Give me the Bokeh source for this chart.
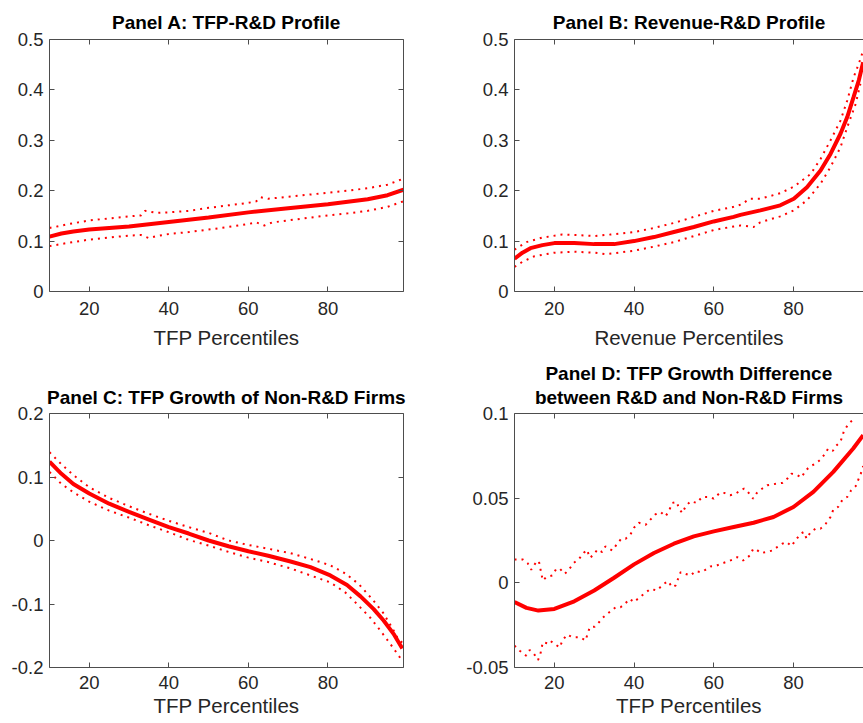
from bokeh.plotting import figure
from bokeh.layouts import column, row
from bokeh.models import Range1d, LinearAxis, FixedTicker, CustomJSTickFormatter, Title
from bokeh.embed import file_html
from bokeh.resources import INLINE

FONT = "Liberation Sans"
RED = "#ff0000"
AXIS = "#4d4d4d"
TEXT = "#262626"

x_ticks = [20, 40, 60, 80]

# Panel A: TFP-R&D profile
a_x = [10, 13, 16, 20, 30, 40, 50, 60, 70, 80, 90, 95, 99]
a_mid = [0.109, 0.115, 0.119, 0.123, 0.129, 0.138, 0.147, 0.157, 0.165, 0.173, 0.183, 0.191, 0.202]
a_up_x = [10, 15, 20, 25, 30, 33, 34, 37, 40, 45, 50, 55, 60, 62, 63, 65, 70, 75, 80, 85, 90, 95, 99]
a_up = [0.126, 0.134, 0.141, 0.145, 0.149, 0.151, 0.160, 0.156, 0.157, 0.160, 0.166, 0.171, 0.176,
        0.179, 0.187, 0.184, 0.188, 0.192, 0.196, 0.200, 0.205, 0.212, 0.224]
a_lo_x = [10, 15, 20, 25, 30, 33, 35, 37, 40, 45, 50, 55, 60, 62, 64, 66, 70, 75, 80, 85, 90, 95, 99]
a_lo = [0.090, 0.097, 0.103, 0.107, 0.111, 0.112, 0.106, 0.110, 0.114, 0.118, 0.123, 0.128, 0.134,
        0.137, 0.131, 0.137, 0.141, 0.146, 0.151, 0.155, 0.160, 0.168, 0.179]

# Panel B: revenue-R&D profile
b_x = [10, 12, 14, 17, 20, 25, 30, 35, 40, 45, 50, 55, 60, 65, 66.7, 71.7, 76.7, 80.1, 83.4,
       86.8, 89.3, 91.8, 93.5, 95.1, 96.4, 97.5]
b_mid = [0.065, 0.077, 0.086, 0.092, 0.096, 0.096, 0.094, 0.094, 0.100, 0.108, 0.118, 0.128, 0.139,
         0.148, 0.152, 0.161, 0.171, 0.184, 0.207, 0.240, 0.273, 0.313, 0.346, 0.386, 0.419, 0.455]
b_up_x = [10, 13, 17, 22, 26, 30, 34, 40, 45, 50, 55, 60, 65, 67, 69, 71.7, 76.7, 80.1, 84.3,
          86.8, 89.3, 91.8, 93.5, 95.1, 96.4, 97.5]
b_up = [0.083, 0.098, 0.107, 0.113, 0.112, 0.110, 0.113, 0.118, 0.126, 0.136, 0.148, 0.160, 0.168,
        0.173, 0.184, 0.184, 0.195, 0.208, 0.233, 0.263, 0.300, 0.339, 0.379, 0.425, 0.452, 0.478]
b_lo_x = [10, 12, 15, 20, 25, 30, 33, 40, 45, 50, 55, 60, 65, 66.7, 70, 71.7, 76.7, 80.1, 83.4,
          86.8, 89.3, 91.8, 93.5, 95.6, 96.8]
b_lo = [0.049, 0.059, 0.070, 0.077, 0.079, 0.077, 0.074, 0.081, 0.089, 0.098, 0.110, 0.122, 0.129,
        0.131, 0.128, 0.1375, 0.149, 0.161, 0.181, 0.214, 0.247, 0.286, 0.326, 0.372, 0.412]

# Panel C: TFP growth of non-R&D firms
c_x = [10, 13, 16, 20, 25, 30, 35, 40, 45, 50, 55, 60, 65, 70.6, 75.6, 80.6, 84.8, 88.2, 91.5,
       94, 96.5, 98.7]
c_mid = [0.124, 0.105, 0.089, 0.074, 0.058, 0.045, 0.033, 0.021, 0.011, 0.000, -0.009, -0.017,
         -0.024, -0.033, -0.042, -0.055, -0.070, -0.088, -0.108, -0.126, -0.147, -0.170]
c_up_x = [10, 13, 16, 20, 25, 30, 35, 40, 45, 50, 55, 60, 65, 70.6, 75.6, 80.6, 84.4, 87.8, 91.1,
          93.9, 96.1, 97.8, 99]
c_up = [0.139, 0.120, 0.103, 0.084, 0.067, 0.054, 0.042, 0.031, 0.021, 0.012, 0.000, -0.007,
        -0.013, -0.020, -0.029, -0.039, -0.052, -0.069, -0.092, -0.114, -0.137, -0.157, -0.162]
c_lo_x = [10, 13, 16, 20, 25, 30, 35, 40, 45, 50, 55, 60, 65, 70.6, 75.6, 80.6, 84.4, 87.3, 90.7,
          93.2, 95.7, 98.2, 99]
c_lo = [0.108, 0.089, 0.076, 0.061, 0.047, 0.036, 0.024, 0.013, 0.001, -0.008, -0.018, -0.027,
        -0.034, -0.044, -0.055, -0.066, -0.082, -0.100, -0.122, -0.142, -0.163, -0.185, -0.188]

# Panel D: TFP growth difference between R&D and non-R&D firms
d_x = [10, 13, 16, 20, 25, 30, 35, 40, 45, 50, 55, 60, 65, 70, 75, 80, 85, 90, 95, 97.5]
d_mid = [-0.0114, -0.0148, -0.0164, -0.0154, -0.0109, -0.0045, 0.0030, 0.0109, 0.0176, 0.0231,
         0.0274, 0.0304, 0.0330, 0.0355, 0.0389, 0.0448, 0.0537, 0.0655, 0.0793, 0.0872]
d_up_x = [10, 12.1, 13.3, 14.2, 15.3, 16.1, 16.5, 17.1, 18.0, 19.5, 20.5, 21.4, 22.6, 23.6, 24.9,
          26.2, 27.4, 28.2, 28.9, 29.9, 30.8, 32.0, 32.8, 34.5, 35.8, 36.8, 37.9, 39.1, 40.0,
          41.2, 42.9, 44.1, 45.4, 46.7, 47.9, 48.7, 49.6, 50.7, 51.3, 52.1, 53.0, 54.2, 55.7,
          57.1, 58.8, 60.0, 61.5, 62.6, 64.1, 65.5, 67.6, 68.7, 69.9, 70.8, 72.2, 73.4, 75.9,
          77.2, 78.5, 79.5, 81.0, 82.0, 83.1, 84.3, 85.6, 86.8, 87.8, 88.7, 89.9, 90.6, 91.8,
          92.7, 93.9, 95.2]
d_up = [0.0138, 0.0138, 0.0116, 0.0077, 0.0118, 0.0130, 0.0083, 0.0014, 0.0034, 0.0043, 0.0083,
        0.0083, 0.0053, 0.0077, 0.0118, 0.0142, 0.0178, 0.0195, 0.0148, 0.0166, 0.0197, 0.0182,
        0.0215, 0.0191, 0.0231, 0.0261, 0.0261, 0.0286, 0.0326, 0.0355, 0.0343, 0.0373, 0.0405,
        0.0418, 0.0393, 0.0422, 0.0472, 0.0478, 0.0438, 0.0412, 0.0454, 0.0482, 0.0472, 0.0507,
        0.0507, 0.0497, 0.0531, 0.0531, 0.0517, 0.0527, 0.0557, 0.0533, 0.0497, 0.0531, 0.0557,
        0.0576, 0.0586, 0.0590, 0.0616, 0.0645, 0.0635, 0.0622, 0.0665, 0.0689, 0.0705, 0.0728,
        0.0758, 0.0793, 0.0780, 0.0807, 0.0833, 0.0898, 0.0941, 0.0969]
d_lo_x = [10, 11.3, 12.9, 13.8, 14.9, 15.9, 16.5, 17.1, 18.2, 18.9, 20.3, 21.4, 22.0, 23.2, 24.7,
          26.6, 27.8, 28.9, 30.1, 31.2, 32.0, 34.1, 35.4, 36.6, 37.7, 38.9, 40.0, 41.2, 42.5,
          44.1, 45.7, 47.5, 48.5, 49.6, 50.4, 51.7, 52.9, 54.2, 55.4, 56.8, 57.9, 59.2, 60.5,
          61.7, 63.0, 64.6, 65.9, 67.4, 69.1, 69.9, 70.8, 71.8, 73.3, 74.7, 75.9, 77.2, 78.3,
          79.5, 80.5, 81.8, 82.6, 83.3, 84.3, 85.6, 86.8, 88.1, 89.3, 90.0, 91.2, 92.3, 93.5,
          94.5, 95.6, 96.9, 97.5]
d_lo = [-0.0371, -0.0401, -0.0430, -0.0397, -0.0420, -0.0456, -0.0420, -0.0351, -0.0357, -0.0341,
        -0.0365, -0.0381, -0.0341, -0.0306, -0.0322, -0.0322, -0.0341, -0.0262, -0.0259, -0.0233,
        -0.0209, -0.0168, -0.0144, -0.0144, -0.0124, -0.0095, -0.0114, -0.0089, -0.0065, -0.0036,
        -0.0045, -0.0006, 0.0010, -0.0026, -0.0016, 0.0063, 0.0053, 0.0043, 0.0069, 0.0063,
        0.0077, 0.0097, 0.0099, 0.0112, 0.0122, 0.0136, 0.0152, 0.0132, 0.0162, 0.0201, 0.0195,
        0.0176, 0.0182, 0.0191, 0.0211, 0.0231, 0.0241, 0.0217, 0.0251, 0.0290, 0.0300, 0.0261,
        0.0300, 0.0320, 0.0320, 0.0349, 0.0389, 0.0432, 0.0448, 0.0491, 0.0507, 0.0547, 0.0570,
        0.0645, 0.0689]


def style_axis(ax, ticks, labels):
    ax.ticker = FixedTicker(ticks=ticks)
    ax.minor_tick_line_color = None
    ax.major_tick_in = 5
    ax.major_tick_out = 0
    ax.axis_line_color = AXIS
    ax.major_tick_line_color = AXIS
    ax.major_label_text_font = FONT
    ax.major_label_text_color = TEXT
    if labels:
        ax.major_label_text_font_size = "18.5px"
        ax.formatter = CustomJSTickFormatter(code="return String(Math.round(tick * 1000) / 1000);")
    else:
        ax.major_label_text_font_size = "0px"
        ax.major_label_standoff = 0
        ax.formatter = CustomJSTickFormatter(code="return '';")
    return ax


def make_panel(width, height, left, top, frame_w, frame_h, x_end, y0, y1, y_ticks,
               xlabel, title, title_gap, tick_gap, label_gap, box_right):
    p = figure(width=width, height=height, x_range=Range1d(10, x_end), y_range=Range1d(y0, y1),
               output_backend="svg", toolbar_location=None, title=None,
               min_border_left=left, min_border_right=width - left - frame_w,
               min_border_top=top, min_border_bottom=height - top - frame_h)
    p.grid.grid_line_color = None
    p.outline_line_color = None
    xa = style_axis(p.xaxis[0], x_ticks, True)
    xa.major_label_standoff = tick_gap
    xa.axis_label = xlabel
    xa.axis_label_standoff = label_gap
    xa.axis_label_text_font = FONT
    xa.axis_label_text_font_size = "20.5px"
    xa.axis_label_text_font_style = "normal"
    xa.axis_label_text_color = TEXT
    ya = style_axis(p.yaxis[0], y_ticks, True)
    ya.major_label_standoff = 6
    p.add_layout(style_axis(LinearAxis(), x_ticks, False), "above")
    if box_right:
        p.add_layout(style_axis(LinearAxis(), y_ticks, False), "right")
    p.add_layout(Title(text=title, align="center", text_align="center", text_font=FONT,
                       text_font_size="19px", text_font_style="bold", text_color="black",
                       text_line_height=1.15, standoff=title_gap), "above")
    return p


def draw(p, x, mid, ux, up, lx, lo):
    p.line(ux, up, line_color=RED, line_width=2, line_dash="2 5")
    p.line(lx, lo, line_color=RED, line_width=2, line_dash="2 5")
    p.line(x, mid, line_color=RED, line_width=4)


a_ticks = [0, 0.1, 0.2, 0.3, 0.4, 0.5]
right_end = 10 + 349 / 3.985

pa = make_panel(430, 355, 49, 39, 354, 252, 99, 0, 0.5, a_ticks, "TFP Percentiles",
                "Panel A: TFP-R&D Profile", 13, 10, 8, True)
draw(pa, a_x, a_mid, a_up_x, a_up, a_lo_x, a_lo)

pb = make_panel(433, 355, 84, 39, 349, 252, right_end, 0, 0.5, a_ticks, "Revenue Percentiles",
                "Panel B: Revenue-R&D Profile", 13, 10, 8, False)
draw(pb, b_x, b_mid, b_up_x, b_up, b_lo_x, b_lo)

pc = make_panel(430, 368, 49, 58, 354, 254, 99, -0.2, 0.2, [-0.2, -0.1, 0, 0.1, 0.2],
                "TFP Percentiles", "Panel C: TFP Growth of Non-R&D Firms", 12, 8, 2, True)
draw(pc, c_x, c_mid, c_up_x, c_up, c_lo_x, c_lo)

pd_ = make_panel(433, 368, 84, 58, 349, 254, right_end, -0.05, 0.1, [-0.05, 0, 0.05, 0.1],
                 "TFP Percentiles",
                 "Panel D: TFP Growth Difference\nbetween R&D and Non-R&D Firms", 11, 8, 2, False)
draw(pd_, d_x, d_mid, d_up_x, d_up, d_lo_x, d_lo)

p = column(row(pa, pb), row(pc, pd_))
open("out.html", "w").write(file_html(p, INLINE))
